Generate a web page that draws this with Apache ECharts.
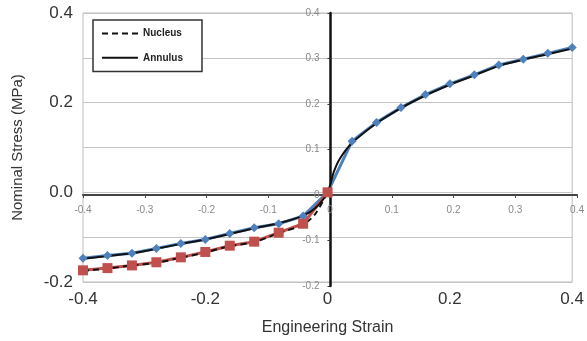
<!DOCTYPE html>
<html>
<head>
<meta charset="utf-8">
<script src="https://cdn.jsdelivr.net/npm/echarts@6/dist/echarts.min.js"></script>
<style>
html,body{margin:0;padding:0;background:#fff;}
#chart{width:587px;height:341px;}
</style>
</head>
<body>
<div id="chart"></div>
<script>
// Data
const feStrain = [-0.4,-0.36,-0.32,-0.28,-0.24,-0.2,-0.16,-0.12,-0.08,-0.04,0,0.04,0.08,0.12,0.16,0.2,0.24,0.28,0.32,0.36,0.4];
const feAnnulusStress = [-0.147,-0.141,-0.136,-0.125,-0.114,-0.105,-0.092,-0.079,-0.070,-0.053,0,0.114,0.156,0.189,0.218,0.242,0.262,0.284,0.297,0.310,0.323];
const feNucleusStrain = [-0.4,-0.36,-0.32,-0.28,-0.24,-0.2,-0.16,-0.12,-0.08,-0.04,0];
const feNucleusStress = [-0.174,-0.169,-0.163,-0.156,-0.145,-0.133,-0.119,-0.110,-0.090,-0.070,0];
const annulusStrain = [-0.4,-0.36,-0.32,-0.28,-0.24,-0.2,-0.16,-0.12,-0.08,-0.04,-0.02,0,0.01,0.02,0.04,0.08,0.12,0.16,0.2,0.24,0.28,0.32,0.36,0.4];
const annulusStress = [-0.148,-0.142,-0.136,-0.126,-0.115,-0.105,-0.093,-0.080,-0.069,-0.052,-0.035,0,0.045,0.075,0.110,0.154,0.188,0.216,0.240,0.261,0.282,0.296,0.308,0.321];
const nucleusStrain = [-0.4,-0.36,-0.32,-0.28,-0.24,-0.2,-0.16,-0.12,-0.08,-0.04,-0.02,0];
const nucleusStress = [-0.175,-0.170,-0.163,-0.157,-0.146,-0.134,-0.120,-0.111,-0.091,-0.072,-0.048,0];
const xRange = [-0.4, 0.4];
const yRange = [-0.2, 0.4];
const outerStep = 0.2;
const innerStep = 0.1;

const zip = (xs, ys) => xs.map((x, i) => [x, ys[i]]);
const font = 'Liberation Sans, Arial, sans-serif';

// grid layout (pixels)
const G = {left: 83, right: 9, top: 13, bottom: 55};
const W = 587, H = 341;
const gw = W - G.left - G.right, gh = H - G.top - G.bottom;
const zeroY = G.top + gh * (yRange[1] / (yRange[1] - yRange[0]));
const zeroX = G.left + gw * (-xRange[0] / (xRange[1] - xRange[0]));

const chart = echarts.init(document.getElementById('chart'), null, {renderer: 'canvas'});
chart.setOption({
  animation: false,
  backgroundColor: '#fff',
  grid: [
    {left: G.left, right: G.right, top: G.top, bottom: G.bottom, show: true, borderColor: '#bdbdbd', borderWidth: 1},
    {left: G.left, right: G.right, top: G.top, bottom: H - zeroY},
    {left: zeroX, right: G.right, top: G.top, bottom: G.bottom}
  ],
  legend: {
    data: ['Nucleus', 'Annulus'],
    orient: 'vertical', left: 93, top: 20,
    borderColor: '#333', borderWidth: 1.5, backgroundColor: '#fff',
    padding: [8, 19, 8, 8], itemGap: 13, itemWidth: 36, itemHeight: 14,
    itemStyle: {opacity: 0},
    textStyle: {fontSize: 10, fontWeight: 'bold', color: '#222', fontFamily: font}
  },
  xAxis: [{
    gridIndex: 0, type: 'value', min: xRange[0], max: xRange[1], interval: outerStep,
    position: 'bottom',
    axisLine: {show: false, onZero: false}, axisTick: {show: false}, splitLine: {show: false},
    axisLabel: {fontSize: 17, color: '#333', fontFamily: font, margin: 9, showMinLabel: true, showMaxLabel: true},
    name: 'Engineering Strain', nameLocation: 'middle', nameGap: 38,
    nameTextStyle: {fontSize: 16, color: '#333', fontFamily: font}
  }, {
    gridIndex: 1, type: 'value', min: xRange[0], max: xRange[1], interval: innerStep, position: 'bottom',
    axisLine: {show: true, onZero: false, lineStyle: {color: '#444', width: 2}},
    axisTick: {show: true, length: 3, lineStyle: {color: '#444'}},
    axisLabel: {fontSize: 10, color: '#888', fontFamily: font, margin: 10, showMinLabel: true, showMaxLabel: true},
    splitLine: {show: false}
  }, {
    gridIndex: 2, type: 'value', min: 0, max: xRange[1], show: false
  }],
  yAxis: [{
    gridIndex: 0, type: 'value', min: yRange[0], max: yRange[1], interval: innerStep,
    position: 'left',
    axisLine: {show: false, onZero: false}, axisTick: {show: false},
    splitLine: {show: true, lineStyle: {color: '#c4c4c4', width: 1}},
    axisLabel: {fontSize: 17, color: '#333', fontFamily: font, margin: 10,
      formatter: v => (Math.round(v * 10) % 2 === 0 ? v.toFixed(1) : '')},
    name: 'Nominal Stress (MPa)', nameLocation: 'middle', nameGap: 58,
    nameTextStyle: {fontSize: 15, color: '#333', fontFamily: font}
  }, {
    gridIndex: 1, type: 'value', min: 0, max: yRange[1], show: false
  }, {
    gridIndex: 2, type: 'value', min: yRange[0], max: yRange[1], interval: innerStep, position: 'left',
    axisLine: {show: true, onZero: false, lineStyle: {color: '#111', width: 2.5}},
    axisTick: {show: true, length: 3, lineStyle: {color: '#333'}},
    axisLabel: {fontSize: 10, color: '#888', fontFamily: font, margin: 11},
    splitLine: {show: false}
  }],
  series: [{
    name: 'FE Annulus', type: 'line', data: zip(feStrain, feAnnulusStress),
    symbol: 'diamond', symbolSize: 9, color: '#4f81bd',
    lineStyle: {width: 3, color: '#4f81bd'}, itemStyle: {color: '#4f81bd'}
  }, {
    name: 'FE Nucleus', type: 'line', data: zip(feNucleusStrain, feNucleusStress),
    symbol: 'rect', symbolSize: 10, color: '#c0504d',
    lineStyle: {width: 3, color: '#c0504d'}, itemStyle: {color: '#c0504d'}
  }, {
    name: 'Annulus', type: 'line', data: zip(annulusStrain, annulusStress),
    symbol: 'none', smooth: 0.3, color: '#111',
    lineStyle: {width: 2, color: '#111', type: 'solid'}
  }, {
    name: 'Nucleus', type: 'line', data: zip(nucleusStrain, nucleusStress),
    symbol: 'none', smooth: 0.3, color: '#111',
    lineStyle: {width: 2, color: '#111', type: [6, 4]}
  }]
});
</script>
</body>
</html>
